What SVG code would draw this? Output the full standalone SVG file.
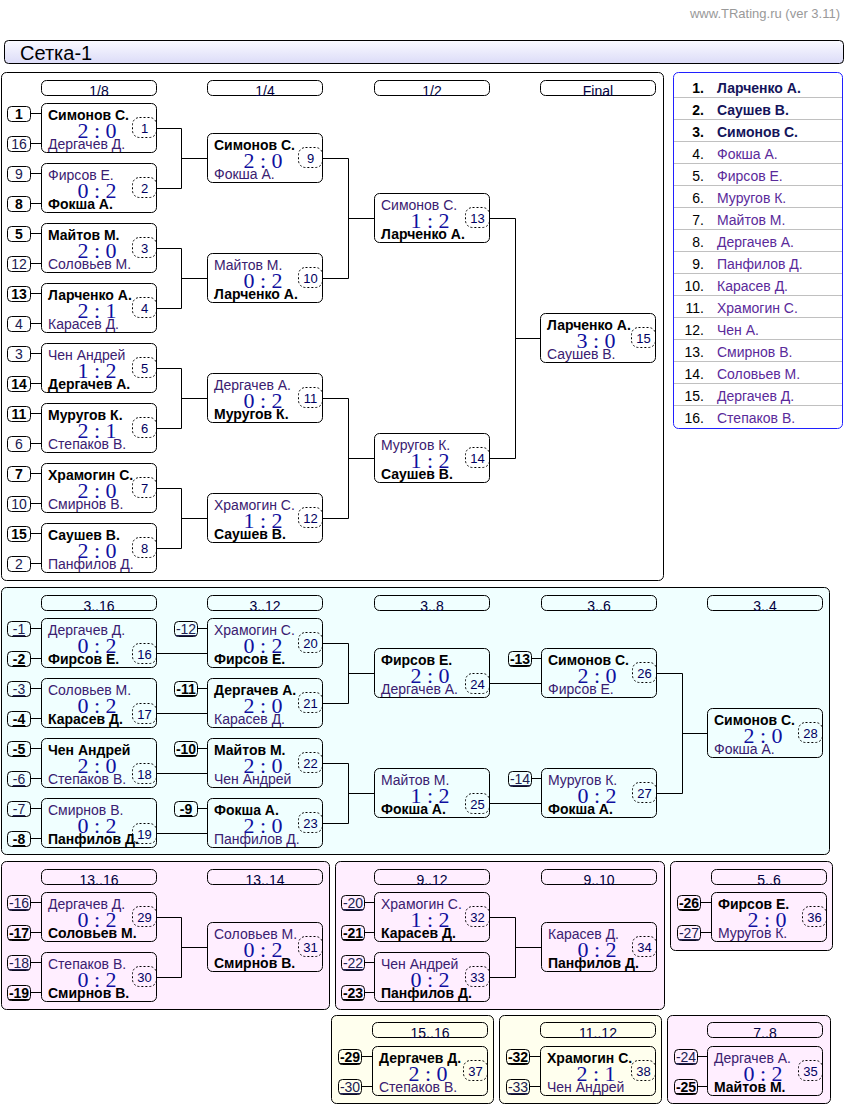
<svg xmlns="http://www.w3.org/2000/svg" width="848" height="1109" viewBox="0 0 848 1109">
<defs>
<linearGradient id="tg" x1="0" y1="0" x2="0" y2="1"><stop offset="0" stop-color="#fafaff"/><stop offset="1" stop-color="#dcdcf8"/></linearGradient>
<style>
text{font-family:"Liberation Sans",Arial,sans-serif}
.pnl{stroke:#000;stroke-width:1}
.bx{fill:none;stroke:#000;stroke-width:1}
.nb{fill:none;stroke:#000;stroke-width:1;stroke-dasharray:2 2}
.c{fill:none;stroke:#000;stroke-width:1}
.w{font-weight:bold;font-size:14px;fill:#000}
.l{font-size:14px;fill:#3a2070}
.sc{font-family:"Liberation Serif","Times New Roman",serif;font-size:22px;fill:#1010a0;text-anchor:middle}
.n{font-size:13px;fill:#000060;text-anchor:middle}
.sw{font-weight:bold;font-size:14px;fill:#000;text-anchor:middle}
.sl{font-size:14px;fill:#202050;text-anchor:middle}
.u{text-decoration:underline}
.h{font-size:14px;fill:#000040;text-anchor:middle}
.lw{font-weight:bold;font-size:14px;fill:#14145a}
.ll{font-size:14px;fill:#5a2a9a}
.lnw{font-weight:bold;font-size:14px;fill:#000;text-anchor:end}
.lnl{font-size:14px;fill:#000;text-anchor:end}
</style>
</defs>
<rect width="848" height="1109" fill="#fff"/>
<text x="840" y="18" font-size="13" fill="#999" text-anchor="end">www.TRating.ru (ver 3.11)</text>
<g id="title"><rect x="4.5" y="40.5" width="839" height="23" rx="4" fill="url(#tg)" stroke="#000"/><text x="20" y="60" font-size="20" fill="#000">Сетка-1</text></g>

<!-- panels -->
<g id="panels">
<rect class="pnl" x="1.5" y="72.5" width="662" height="508" rx="5" fill="#fff"/>
<rect class="pnl" x="1.5" y="587.5" width="828" height="267" rx="5" fill="#f0ffff"/>
<rect class="pnl" x="1.5" y="861.5" width="328" height="148" rx="5" fill="#ffeeff"/>
<rect class="pnl" x="335.5" y="861.5" width="329" height="148" rx="5" fill="#ffeeff"/>
<rect class="pnl" x="670.5" y="861.5" width="162" height="89" rx="5" fill="#ffeeff"/>
<rect class="pnl" x="331.5" y="1015.5" width="162" height="88" rx="5" fill="#ffffee"/>
<rect class="pnl" x="499.5" y="1015.5" width="162" height="88" rx="5" fill="#ffffee"/>
<rect class="pnl" x="667.5" y="1015.5" width="163" height="88" rx="5" fill="#ffeeff"/>
</g>

<g id="headers">
<rect class="bx" x="41.5" y="80.5" width="115" height="15" rx="5"/><text class="h" x="99" y="96">1/8</text>
<rect class="bx" x="207.5" y="80.5" width="115" height="15" rx="5"/><text class="h" x="265" y="96">1/4</text>
<rect class="bx" x="374.5" y="80.5" width="115" height="15" rx="5"/><text class="h" x="432" y="96">1/2</text>
<rect class="bx" x="540.5" y="80.5" width="115" height="15" rx="5"/><text class="h" x="598" y="96">Final</text>
<rect class="bx" x="41.5" y="595.5" width="115" height="15" rx="5"/><text class="h" x="99" y="611">3..16</text>
<rect class="bx" x="207.5" y="595.5" width="115" height="15" rx="5"/><text class="h" x="265" y="611">3..12</text>
<rect class="bx" x="374.5" y="595.5" width="115" height="15" rx="5"/><text class="h" x="432" y="611">3..8</text>
<rect class="bx" x="541.5" y="595.5" width="115" height="15" rx="5"/><text class="h" x="599" y="611">3..6</text>
<rect class="bx" x="707.5" y="595.5" width="115" height="15" rx="5"/><text class="h" x="765" y="611">3..4</text>
<rect class="bx" x="41.5" y="869.5" width="115" height="15" rx="5"/><text class="h" x="99" y="885">13..16</text>
<rect class="bx" x="207.5" y="869.5" width="115" height="15" rx="5"/><text class="h" x="265" y="885">13..14</text>
<rect class="bx" x="374.5" y="869.5" width="115" height="15" rx="5"/><text class="h" x="432" y="885">9..12</text>
<rect class="bx" x="541.5" y="869.5" width="115" height="15" rx="5"/><text class="h" x="599" y="885">9..10</text>
<rect class="bx" x="711.5" y="869.5" width="115" height="15" rx="5"/><text class="h" x="769" y="885">5..6</text>
<rect class="bx" x="372.5" y="1022.5" width="115" height="15" rx="5"/><text class="h" x="430" y="1038">15..16</text>
<rect class="bx" x="540.5" y="1022.5" width="115" height="15" rx="5"/><text class="h" x="598" y="1038">11..12</text>
<rect class="bx" x="707.5" y="1022.5" width="115" height="15" rx="5"/><text class="h" x="765" y="1038">7..8</text>
</g>

<g id="connectors">
<path class="c" d="M31 113.5H41M31 143.5H41M31 173.5H41M31 203.5H41M31 233.5H41M31 263.5H41M31 293.5H41M31 323.5H41M31 353.5H41M31 383.5H41M31 413.5H41M31 443.5H41M31 473.5H41M31 503.5H41M31 533.5H41M31 563.5H41"/>
<path class="c" d="M157 128.5H181.5V188.5H157M181.5 158.5H207M157 248.5H181.5V308.5H157M181.5 278.5H207M157 368.5H181.5V428.5H157M181.5 398.5H207M157 488.5H181.5V548.5H157M181.5 518.5H207"/>
<path class="c" d="M323 158.5H348.5V278.5H323M348.5 218.5H374M323 398.5H348.5V518.5H323M348.5 458.5H374M490 218.5H515.5V458.5H490M515.5 338.5H540"/>
<path class="c" d="M31 628.5H41M31 658.5H41M31 688.5H41M31 718.5H41M31 748.5H41M31 778.5H41M31 808.5H41M31 838.5H41M198 628.5H207M198 688.5H207M198 748.5H207M198 808.5H207M532 658.5H541M532 778.5H541"/>
<path class="c" d="M157 653.5H207M157 713.5H207M157 773.5H207M157 833.5H207M323 643.5H348.5V703.5H323M348.5 673.5H374M323 763.5H348.5V823.5H323M348.5 793.5H374M490 683.5H541M490 803.5H541M657 673.5H682.5V793.5H657M682.5 733.5H707"/>
<path class="c" d="M31 902.5H41M31 932.5H41M31 962.5H41M31 992.5H41M157 917.5H181.5V977.5H157M181.5 947.5H207"/>
<path class="c" d="M365 902.5H374M365 932.5H374M365 962.5H374M365 992.5H374M490 917.5H515.5V977.5H490M515.5 947.5H541"/>
<path class="c" d="M701 902.5H711M701 932.5H711M362 1056.5H372M362 1086.5H372M530 1056.5H540M530 1086.5H540M698 1056.5H707M698 1086.5H707"/>
</g>

<g id="seeds">
<rect class="bx" x="7.5" y="106.5" width="23" height="15" rx="4"/><text class="sw" x="19" y="119">1</text>
<rect class="bx" x="7.5" y="136.5" width="23" height="15" rx="4"/><text class="sl" x="19" y="149">16</text>
<rect class="bx" x="7.5" y="166.5" width="23" height="15" rx="4"/><text class="sl" x="19" y="179">9</text>
<rect class="bx" x="7.5" y="196.5" width="23" height="15" rx="4"/><text class="sw" x="19" y="209">8</text>
<rect class="bx" x="7.5" y="226.5" width="23" height="15" rx="4"/><text class="sw" x="19" y="239">5</text>
<rect class="bx" x="7.5" y="256.5" width="23" height="15" rx="4"/><text class="sl" x="19" y="269">12</text>
<rect class="bx" x="7.5" y="286.5" width="23" height="15" rx="4"/><text class="sw" x="19" y="299">13</text>
<rect class="bx" x="7.5" y="316.5" width="23" height="15" rx="4"/><text class="sl" x="19" y="329">4</text>
<rect class="bx" x="7.5" y="346.5" width="23" height="15" rx="4"/><text class="sl" x="19" y="359">3</text>
<rect class="bx" x="7.5" y="376.5" width="23" height="15" rx="4"/><text class="sw" x="19" y="389">14</text>
<rect class="bx" x="7.5" y="406.5" width="23" height="15" rx="4"/><text class="sw" x="19" y="419">11</text>
<rect class="bx" x="7.5" y="436.5" width="23" height="15" rx="4"/><text class="sl" x="19" y="449">6</text>
<rect class="bx" x="7.5" y="466.5" width="23" height="15" rx="4"/><text class="sw" x="19" y="479">7</text>
<rect class="bx" x="7.5" y="496.5" width="23" height="15" rx="4"/><text class="sl" x="19" y="509">10</text>
<rect class="bx" x="7.5" y="526.5" width="23" height="15" rx="4"/><text class="sw" x="19" y="539">15</text>
<rect class="bx" x="7.5" y="556.5" width="23" height="15" rx="4"/><text class="sl" x="19" y="569">2</text>

<rect class="bx" x="7.5" y="621.5" width="23" height="15" rx="4"/><text class="sl u" x="19" y="634">-1</text>
<rect class="bx" x="7.5" y="651.5" width="23" height="15" rx="4"/><text class="sw u" x="19" y="664">-2</text>
<rect class="bx" x="7.5" y="681.5" width="23" height="15" rx="4"/><text class="sl u" x="19" y="694">-3</text>
<rect class="bx" x="7.5" y="711.5" width="23" height="15" rx="4"/><text class="sw u" x="19" y="724">-4</text>
<rect class="bx" x="7.5" y="741.5" width="23" height="15" rx="4"/><text class="sw u" x="19" y="754">-5</text>
<rect class="bx" x="7.5" y="771.5" width="23" height="15" rx="4"/><text class="sl u" x="19" y="784">-6</text>
<rect class="bx" x="7.5" y="801.5" width="23" height="15" rx="4"/><text class="sl u" x="19" y="814">-7</text>
<rect class="bx" x="7.5" y="831.5" width="23" height="15" rx="4"/><text class="sw u" x="19" y="844">-8</text>
<rect class="bx" x="174.5" y="621.5" width="23" height="15" rx="4"/><text class="sl u" x="186" y="634">-12</text>
<rect class="bx" x="174.5" y="681.5" width="23" height="15" rx="4"/><text class="sw u" x="186" y="694">-11</text>
<rect class="bx" x="174.5" y="741.5" width="23" height="15" rx="4"/><text class="sw u" x="186" y="754">-10</text>
<rect class="bx" x="174.5" y="801.5" width="23" height="15" rx="4"/><text class="sw u" x="186" y="814">-9</text>
<rect class="bx" x="508.5" y="651.5" width="23" height="15" rx="4"/><text class="sw u" x="520" y="664">-13</text>
<rect class="bx" x="508.5" y="771.5" width="23" height="15" rx="4"/><text class="sl u" x="520" y="784">-14</text>

<rect class="bx" x="7.5" y="895.5" width="23" height="15" rx="4"/><text class="sl u" x="19" y="908">-16</text>
<rect class="bx" x="7.5" y="925.5" width="23" height="15" rx="4"/><text class="sw u" x="19" y="938">-17</text>
<rect class="bx" x="7.5" y="955.5" width="23" height="15" rx="4"/><text class="sl u" x="19" y="968">-18</text>
<rect class="bx" x="7.5" y="985.5" width="23" height="15" rx="4"/><text class="sw u" x="19" y="998">-19</text>
<rect class="bx" x="341.5" y="895.5" width="23" height="15" rx="4"/><text class="sl u" x="353" y="908">-20</text>
<rect class="bx" x="341.5" y="925.5" width="23" height="15" rx="4"/><text class="sw u" x="353" y="938">-21</text>
<rect class="bx" x="341.5" y="955.5" width="23" height="15" rx="4"/><text class="sl u" x="353" y="968">-22</text>
<rect class="bx" x="341.5" y="985.5" width="23" height="15" rx="4"/><text class="sw u" x="353" y="998">-23</text>
<rect class="bx" x="677.5" y="895.5" width="23" height="15" rx="4"/><text class="sw u" x="689" y="908">-26</text>
<rect class="bx" x="677.5" y="925.5" width="23" height="15" rx="4"/><text class="sl u" x="689" y="938">-27</text>
<rect class="bx" x="338.5" y="1049.5" width="23" height="15" rx="4"/><text class="sw u" x="350" y="1062">-29</text>
<rect class="bx" x="338.5" y="1079.5" width="23" height="15" rx="4"/><text class="sl u" x="350" y="1092">-30</text>
<rect class="bx" x="506.5" y="1049.5" width="23" height="15" rx="4"/><text class="sw u" x="518" y="1062">-32</text>
<rect class="bx" x="506.5" y="1079.5" width="23" height="15" rx="4"/><text class="sl u" x="518" y="1092">-33</text>
<rect class="bx" x="674.5" y="1049.5" width="23" height="15" rx="4"/><text class="sl u" x="686" y="1062">-24</text>
<rect class="bx" x="674.5" y="1079.5" width="23" height="15" rx="4"/><text class="sw u" x="686" y="1092">-25</text>
</g>

<!-- matches: box(x,y) -->
<g id="m1"><rect class="bx" x="41.5" y="103.5" width="115" height="49" rx="5"/><rect class="nb" x="132.5" y="117.5" width="24" height="20" rx="7"/><text class="w" x="48" y="120">Симонов С.</text><text class="sc" x="97" y="138">2 : 0</text><text class="l" x="48" y="149">Дергачев Д.</text><text class="n" x="144.5" y="132.5">1</text></g>
<g id="m2"><rect class="bx" x="41.5" y="163.5" width="115" height="49" rx="5"/><rect class="nb" x="132.5" y="177.5" width="24" height="20" rx="7"/><text class="l" x="48" y="180">Фирсов Е.</text><text class="sc" x="97" y="198">0 : 2</text><text class="w" x="48" y="209">Фокша А.</text><text class="n" x="144.5" y="192.5">2</text></g>
<g id="m3"><rect class="bx" x="41.5" y="223.5" width="115" height="49" rx="5"/><rect class="nb" x="132.5" y="237.5" width="24" height="20" rx="7"/><text class="w" x="48" y="240">Майтов М.</text><text class="sc" x="97" y="258">2 : 0</text><text class="l" x="48" y="269">Соловьев М.</text><text class="n" x="144.5" y="252.5">3</text></g>
<g id="m4"><rect class="bx" x="41.5" y="283.5" width="115" height="49" rx="5"/><rect class="nb" x="132.5" y="297.5" width="24" height="20" rx="7"/><text class="w" x="48" y="300">Ларченко А.</text><text class="sc" x="97" y="318">2 : 1</text><text class="l" x="48" y="329">Карасев Д.</text><text class="n" x="144.5" y="312.5">4</text></g>
<g id="m5"><rect class="bx" x="41.5" y="343.5" width="115" height="49" rx="5"/><rect class="nb" x="132.5" y="357.5" width="24" height="20" rx="7"/><text class="l" x="48" y="360">Чен Андрей</text><text class="sc" x="97" y="378">1 : 2</text><text class="w" x="48" y="389">Дергачев А.</text><text class="n" x="144.5" y="372.5">5</text></g>
<g id="m6"><rect class="bx" x="41.5" y="403.5" width="115" height="49" rx="5"/><rect class="nb" x="132.5" y="417.5" width="24" height="20" rx="7"/><text class="w" x="48" y="420">Муругов К.</text><text class="sc" x="97" y="438">2 : 1</text><text class="l" x="48" y="449">Степаков В.</text><text class="n" x="144.5" y="432.5">6</text></g>
<g id="m7"><rect class="bx" x="41.5" y="463.5" width="115" height="49" rx="5"/><rect class="nb" x="132.5" y="477.5" width="24" height="20" rx="7"/><text class="w" x="48" y="480">Храмогин С.</text><text class="sc" x="97" y="498">2 : 0</text><text class="l" x="48" y="509">Смирнов В.</text><text class="n" x="144.5" y="492.5">7</text></g>
<g id="m8"><rect class="bx" x="41.5" y="523.5" width="115" height="49" rx="5"/><rect class="nb" x="132.5" y="537.5" width="24" height="20" rx="7"/><text class="w" x="48" y="540">Саушев В.</text><text class="sc" x="97" y="558">2 : 0</text><text class="l" x="48" y="569">Панфилов Д.</text><text class="n" x="144.5" y="552.5">8</text></g>
<g id="m9"><rect class="bx" x="207.5" y="133.5" width="115" height="49" rx="5"/><rect class="nb" x="298.5" y="147.5" width="24" height="20" rx="7"/><text class="w" x="214" y="150">Симонов С.</text><text class="sc" x="263" y="168">2 : 0</text><text class="l" x="214" y="179">Фокша А.</text><text class="n" x="310.5" y="162.5">9</text></g>
<g id="m10"><rect class="bx" x="207.5" y="253.5" width="115" height="49" rx="5"/><rect class="nb" x="298.5" y="267.5" width="24" height="20" rx="7"/><text class="l" x="214" y="270">Майтов М.</text><text class="sc" x="263" y="288">0 : 2</text><text class="w" x="214" y="299">Ларченко А.</text><text class="n" x="310.5" y="282.5">10</text></g>
<g id="m11"><rect class="bx" x="207.5" y="373.5" width="115" height="49" rx="5"/><rect class="nb" x="298.5" y="387.5" width="24" height="20" rx="7"/><text class="l" x="214" y="390">Дергачев А.</text><text class="sc" x="263" y="408">0 : 2</text><text class="w" x="214" y="419">Муругов К.</text><text class="n" x="310.5" y="402.5">11</text></g>
<g id="m12"><rect class="bx" x="207.5" y="493.5" width="115" height="49" rx="5"/><rect class="nb" x="298.5" y="507.5" width="24" height="20" rx="7"/><text class="l" x="214" y="510">Храмогин С.</text><text class="sc" x="263" y="528">1 : 2</text><text class="w" x="214" y="539">Саушев В.</text><text class="n" x="310.5" y="522.5">12</text></g>
<g id="m13"><rect class="bx" x="374.5" y="193.5" width="115" height="49" rx="5"/><rect class="nb" x="465.5" y="207.5" width="24" height="20" rx="7"/><text class="l" x="381" y="210">Симонов С.</text><text class="sc" x="430" y="228">1 : 2</text><text class="w" x="381" y="239">Ларченко А.</text><text class="n" x="477.5" y="222.5">13</text></g>
<g id="m14"><rect class="bx" x="374.5" y="433.5" width="115" height="49" rx="5"/><rect class="nb" x="465.5" y="447.5" width="24" height="20" rx="7"/><text class="l" x="381" y="450">Муругов К.</text><text class="sc" x="430" y="468">1 : 2</text><text class="w" x="381" y="479">Саушев В.</text><text class="n" x="477.5" y="462.5">14</text></g>
<g id="m15"><rect class="bx" x="540.5" y="313.5" width="115" height="49" rx="5"/><rect class="nb" x="631.5" y="327.5" width="24" height="20" rx="7"/><text class="w" x="547" y="330">Ларченко А.</text><text class="sc" x="596" y="348">3 : 0</text><text class="l" x="547" y="359">Саушев В.</text><text class="n" x="643.5" y="342.5">15</text></g>

<g id="m16"><rect class="bx" x="41.5" y="618.5" width="115" height="49" rx="5"/><rect class="nb" x="132.5" y="643.5" width="24" height="20" rx="7"/><text class="l" x="48" y="635">Дергачев Д.</text><text class="sc" x="97" y="653">0 : 2</text><text class="w" x="48" y="664">Фирсов Е.</text><text class="n" x="144.5" y="658.5">16</text></g>
<g id="m17"><rect class="bx" x="41.5" y="678.5" width="115" height="49" rx="5"/><rect class="nb" x="132.5" y="703.5" width="24" height="20" rx="7"/><text class="l" x="48" y="695">Соловьев М.</text><text class="sc" x="97" y="713">0 : 2</text><text class="w" x="48" y="724">Карасев Д.</text><text class="n" x="144.5" y="718.5">17</text></g>
<g id="m18"><rect class="bx" x="41.5" y="738.5" width="115" height="49" rx="5"/><rect class="nb" x="132.5" y="763.5" width="24" height="20" rx="7"/><text class="w" x="48" y="755">Чен Андрей</text><text class="sc" x="97" y="773">2 : 0</text><text class="l" x="48" y="784">Степаков В.</text><text class="n" x="144.5" y="778.5">18</text></g>
<g id="m19"><rect class="bx" x="41.5" y="798.5" width="115" height="49" rx="5"/><rect class="nb" x="132.5" y="823.5" width="24" height="20" rx="7"/><text class="l" x="48" y="815">Смирнов В.</text><text class="sc" x="97" y="833">0 : 2</text><text class="w" x="48" y="844">Панфилов Д.</text><text class="n" x="144.5" y="838.5">19</text></g>
<g id="m20"><rect class="bx" x="207.5" y="618.5" width="115" height="49" rx="5"/><rect class="nb" x="298.5" y="632.5" width="24" height="20" rx="7"/><text class="l" x="214" y="635">Храмогин С.</text><text class="sc" x="263" y="653">0 : 2</text><text class="w" x="214" y="664">Фирсов Е.</text><text class="n" x="310.5" y="647.5">20</text></g>
<g id="m21"><rect class="bx" x="207.5" y="678.5" width="115" height="49" rx="5"/><rect class="nb" x="298.5" y="692.5" width="24" height="20" rx="7"/><text class="w" x="214" y="695">Дергачев А.</text><text class="sc" x="263" y="713">2 : 0</text><text class="l" x="214" y="724">Карасев Д.</text><text class="n" x="310.5" y="707.5">21</text></g>
<g id="m22"><rect class="bx" x="207.5" y="738.5" width="115" height="49" rx="5"/><rect class="nb" x="298.5" y="752.5" width="24" height="20" rx="7"/><text class="w" x="214" y="755">Майтов М.</text><text class="sc" x="263" y="773">2 : 0</text><text class="l" x="214" y="784">Чен Андрей</text><text class="n" x="310.5" y="767.5">22</text></g>
<g id="m23"><rect class="bx" x="207.5" y="798.5" width="115" height="49" rx="5"/><rect class="nb" x="298.5" y="812.5" width="24" height="20" rx="7"/><text class="w" x="214" y="815">Фокша А.</text><text class="sc" x="263" y="833">2 : 0</text><text class="l" x="214" y="844">Панфилов Д.</text><text class="n" x="310.5" y="827.5">23</text></g>
<g id="m24"><rect class="bx" x="374.5" y="648.5" width="115" height="49" rx="5"/><rect class="nb" x="465.5" y="673.5" width="24" height="20" rx="7"/><text class="w" x="381" y="665">Фирсов Е.</text><text class="sc" x="430" y="683">2 : 0</text><text class="l" x="381" y="694">Дергачев А.</text><text class="n" x="477.5" y="688.5">24</text></g>
<g id="m25"><rect class="bx" x="374.5" y="768.5" width="115" height="49" rx="5"/><rect class="nb" x="465.5" y="793.5" width="24" height="20" rx="7"/><text class="l" x="381" y="785">Майтов М.</text><text class="sc" x="430" y="803">1 : 2</text><text class="w" x="381" y="814">Фокша А.</text><text class="n" x="477.5" y="808.5">25</text></g>
<g id="m26"><rect class="bx" x="541.5" y="648.5" width="115" height="49" rx="5"/><rect class="nb" x="632.5" y="662.5" width="24" height="20" rx="7"/><text class="w" x="548" y="665">Симонов С.</text><text class="sc" x="597" y="683">2 : 0</text><text class="l" x="548" y="694">Фирсов Е.</text><text class="n" x="644.5" y="677.5">26</text></g>
<g id="m27"><rect class="bx" x="541.5" y="768.5" width="115" height="49" rx="5"/><rect class="nb" x="632.5" y="782.5" width="24" height="20" rx="7"/><text class="l" x="548" y="785">Муругов К.</text><text class="sc" x="597" y="803">0 : 2</text><text class="w" x="548" y="814">Фокша А.</text><text class="n" x="644.5" y="797.5">27</text></g>
<g id="m28"><rect class="bx" x="707.5" y="708.5" width="115" height="49" rx="5"/><rect class="nb" x="798.5" y="722.5" width="24" height="20" rx="7"/><text class="w" x="714" y="725">Симонов С.</text><text class="sc" x="763" y="743">2 : 0</text><text class="l" x="714" y="754">Фокша А.</text><text class="n" x="810.5" y="737.5">28</text></g>

<g id="m29"><rect class="bx" x="41.5" y="892.5" width="115" height="49" rx="5"/><rect class="nb" x="132.5" y="906.5" width="24" height="20" rx="7"/><text class="l" x="48" y="909">Дергачев Д.</text><text class="sc" x="97" y="927">0 : 2</text><text class="w" x="48" y="938">Соловьев М.</text><text class="n" x="144.5" y="921.5">29</text></g>
<g id="m30"><rect class="bx" x="41.5" y="952.5" width="115" height="49" rx="5"/><rect class="nb" x="132.5" y="966.5" width="24" height="20" rx="7"/><text class="l" x="48" y="969">Степаков В.</text><text class="sc" x="97" y="987">0 : 2</text><text class="w" x="48" y="998">Смирнов В.</text><text class="n" x="144.5" y="981.5">30</text></g>
<g id="m31"><rect class="bx" x="207.5" y="922.5" width="115" height="49" rx="5"/><rect class="nb" x="298.5" y="936.5" width="24" height="20" rx="7"/><text class="l" x="214" y="939">Соловьев М.</text><text class="sc" x="263" y="957">0 : 2</text><text class="w" x="214" y="968">Смирнов В.</text><text class="n" x="310.5" y="951.5">31</text></g>
<g id="m32"><rect class="bx" x="374.5" y="892.5" width="115" height="49" rx="5"/><rect class="nb" x="465.5" y="906.5" width="24" height="20" rx="7"/><text class="l" x="381" y="909">Храмогин С.</text><text class="sc" x="430" y="927">1 : 2</text><text class="w" x="381" y="938">Карасев Д.</text><text class="n" x="477.5" y="921.5">32</text></g>
<g id="m33"><rect class="bx" x="374.5" y="952.5" width="115" height="49" rx="5"/><rect class="nb" x="465.5" y="966.5" width="24" height="20" rx="7"/><text class="l" x="381" y="969">Чен Андрей</text><text class="sc" x="430" y="987">0 : 2</text><text class="w" x="381" y="998">Панфилов Д.</text><text class="n" x="477.5" y="981.5">33</text></g>
<g id="m34"><rect class="bx" x="541.5" y="922.5" width="115" height="49" rx="5"/><rect class="nb" x="632.5" y="936.5" width="24" height="20" rx="7"/><text class="l" x="548" y="939">Карасев Д.</text><text class="sc" x="597" y="957">0 : 2</text><text class="w" x="548" y="968">Панфилов Д.</text><text class="n" x="644.5" y="951.5">34</text></g>
<g id="m36"><rect class="bx" x="711.5" y="892.5" width="115" height="49" rx="5"/><rect class="nb" x="802.5" y="906.5" width="24" height="20" rx="7"/><text class="w" x="718" y="909">Фирсов Е.</text><text class="sc" x="767" y="927">2 : 0</text><text class="l" x="718" y="938">Муругов К.</text><text class="n" x="814.5" y="921.5">36</text></g>
<g id="m37"><rect class="bx" x="372.5" y="1046.5" width="115" height="49" rx="5"/><rect class="nb" x="463.5" y="1060.5" width="24" height="20" rx="7"/><text class="w" x="379" y="1063">Дергачев Д.</text><text class="sc" x="428" y="1081">2 : 0</text><text class="l" x="379" y="1092">Степаков В.</text><text class="n" x="475.5" y="1075.5">37</text></g>
<g id="m38"><rect class="bx" x="540.5" y="1046.5" width="115" height="49" rx="5"/><rect class="nb" x="631.5" y="1060.5" width="24" height="20" rx="7"/><text class="w" x="547" y="1063">Храмогин С.</text><text class="sc" x="596" y="1081">2 : 1</text><text class="l" x="547" y="1092">Чен Андрей</text><text class="n" x="643.5" y="1075.5">38</text></g>
<g id="m35"><rect class="bx" x="707.5" y="1046.5" width="115" height="49" rx="5"/><rect class="nb" x="798.5" y="1060.5" width="24" height="20" rx="7"/><text class="l" x="714" y="1063">Дергачев А.</text><text class="sc" x="763" y="1081">0 : 2</text><text class="w" x="714" y="1092">Майтов М.</text><text class="n" x="810.5" y="1075.5">35</text></g>

<g id="standings">
<rect x="673.5" y="72.5" width="169" height="356" rx="5" fill="#fff" stroke="#2020ff"/>
<path d="M674 97.5H842M674 119.5H842M674 141.5H842M674 163.5H842M674 185.5H842M674 207.5H842M674 229.5H842M674 251.5H842M674 273.5H842M674 295.5H842M674 317.5H842M674 339.5H842M674 361.5H842M674 383.5H842M674 405.5H842" stroke="#c0c0c0" fill="none"/>
<text class="lnw" x="704" y="93">1.</text><text class="lw" x="717" y="93">Ларченко А.</text>
<text class="lnw" x="704" y="115">2.</text><text class="lw" x="717" y="115">Саушев В.</text>
<text class="lnw" x="704" y="137">3.</text><text class="lw" x="717" y="137">Симонов С.</text>
<text class="lnl" x="704" y="159">4.</text><text class="ll" x="717" y="159">Фокша А.</text>
<text class="lnl" x="704" y="181">5.</text><text class="ll" x="717" y="181">Фирсов Е.</text>
<text class="lnl" x="704" y="203">6.</text><text class="ll" x="717" y="203">Муругов К.</text>
<text class="lnl" x="704" y="225">7.</text><text class="ll" x="717" y="225">Майтов М.</text>
<text class="lnl" x="704" y="247">8.</text><text class="ll" x="717" y="247">Дергачев А.</text>
<text class="lnl" x="704" y="269">9.</text><text class="ll" x="717" y="269">Панфилов Д.</text>
<text class="lnl" x="704" y="291">10.</text><text class="ll" x="717" y="291">Карасев Д.</text>
<text class="lnl" x="704" y="313">11.</text><text class="ll" x="717" y="313">Храмогин С.</text>
<text class="lnl" x="704" y="335">12.</text><text class="ll" x="717" y="335">Чен А.</text>
<text class="lnl" x="704" y="357">13.</text><text class="ll" x="717" y="357">Смирнов В.</text>
<text class="lnl" x="704" y="379">14.</text><text class="ll" x="717" y="379">Соловьев М.</text>
<text class="lnl" x="704" y="401">15.</text><text class="ll" x="717" y="401">Дергачев Д.</text>
<text class="lnl" x="704" y="423">16.</text><text class="ll" x="717" y="423">Степаков В.</text>
</g>
</svg>
